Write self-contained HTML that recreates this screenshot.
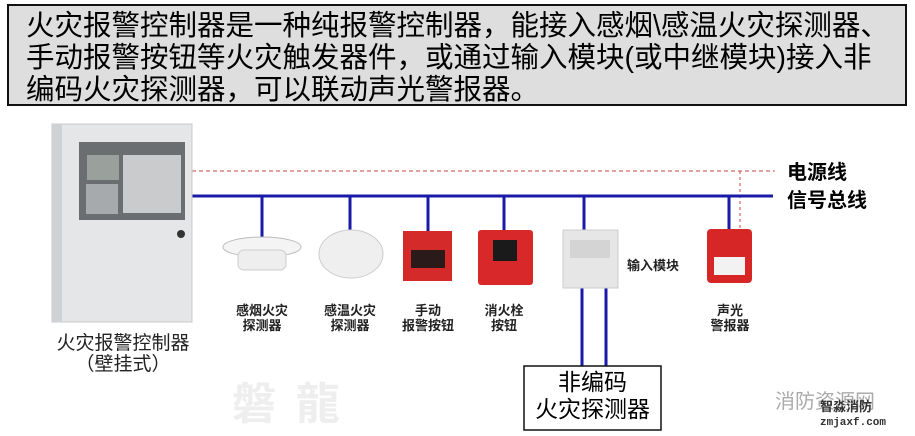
<!DOCTYPE html>
<html><head><meta charset="utf-8"><style>
body{margin:0;width:915px;height:436px;background:#fff;position:relative;overflow:hidden;font-family:"Liberation Sans","Noto Sans CJK SC",sans-serif}
.a{position:absolute}
.top{left:7px;top:4px;width:896px;height:98px;background:#dedede;border:2px solid #111;}
.top div{position:absolute;left:17px;font-size:28.5px;line-height:32px;color:#000;white-space:nowrap}
.lb{position:absolute;font-size:13px;line-height:15px;text-align:center;color:#222;font-weight:bold}
</style></head><body>
<div class="a top"><div style="top:4px">火灾报警控制器是一种纯报警控制器，能接入感烟\感温火灾探测器、<br>手动报警按钮等火灾触发器件，或通过输入模块(或中继模块)接入非<br>编码火灾探测器，可以联动声光警报器。</div></div>
<svg class="a" style="left:0;top:0" width="915" height="436">
<line x1="192" y1="171" x2="775" y2="171" stroke="#c44" stroke-width="1" stroke-dasharray="4,3"/>
<line x1="740" y1="171" x2="740" y2="230" stroke="#c44" stroke-width="1" stroke-dasharray="3,3"/>
<line x1="190" y1="196" x2="773" y2="196" stroke="#1a1aa8" stroke-width="3"/>
<g stroke="#1a1aa8" stroke-width="3">
<line x1="262" y1="196" x2="262" y2="238"/><line x1="350" y1="196" x2="350" y2="230"/>
<line x1="428" y1="196" x2="428" y2="231"/><line x1="504" y1="196" x2="504" y2="231"/>
<line x1="584" y1="196" x2="584" y2="230"/><line x1="729" y1="196" x2="729" y2="230"/>
<line x1="582" y1="288" x2="582" y2="366"/><line x1="606" y1="288" x2="606" y2="366"/>
</g>
<!-- controller -->
<rect x="52" y="124" width="140" height="198" fill="#e4e6e8" stroke="#c8c8c8"/>
<rect x="52" y="124" width="10" height="198" fill="#cfd2d4"/>
<rect x="79" y="142" width="106" height="78" fill="#6a6e70"/>
<rect x="87" y="155" width="32" height="25" fill="#9aa19c"/>
<rect x="123" y="155" width="58" height="58" fill="#c9cbcc"/>
<rect x="86" y="184" width="32" height="30" fill="#a7aaac"/>
<circle cx="181" cy="234" r="4" fill="#333"/>
<!-- smoke -->
<ellipse cx="262" cy="247" rx="39" ry="10" fill="#f4f4f4" stroke="#bbb"/>
<rect x="238" y="250" width="48" height="20" rx="6" fill="#eee" stroke="#ccc"/>
<!-- heat -->
<ellipse cx="351" cy="254" rx="32" ry="24" fill="#efefef" stroke="#ccc"/>
<!-- manual -->
<rect x="403" y="231" width="49" height="50" fill="#d42a2a"/>
<rect x="411" y="250" width="34" height="18" fill="#2a1a1a"/>
<!-- hydrant -->
<rect x="478" y="230" width="55" height="55" rx="3" fill="#d8282a"/>
<rect x="493" y="240" width="24" height="21" fill="#1a1a1a"/>
<!-- module -->
<rect x="563" y="230" width="55" height="58" fill="#e6e6e6" stroke="#ccc"/>
<rect x="570" y="240" width="40" height="18" fill="#d4d4d4"/>
<!-- sounder -->
<rect x="707" y="229" width="45" height="54" rx="4" fill="#d62626"/>
<rect x="714" y="257" width="31" height="18" fill="#f2f2f2"/>
<rect x="524" y="366" width="137" height="64" fill="#fff" stroke="#111" stroke-width="1.5"/>
</svg>
<div class="a" style="left:787px;top:159px;font-size:20px;font-weight:bold;line-height:28px">电源线<br>信号总线</div>
<div class="a" style="left:627px;top:255px;font-size:13px;font-weight:bold;color:#222">输入模块</div>
<div class="lb" style="left:232px;top:303px;width:60px">感烟火灾<br>探测器</div>
<div class="lb" style="left:320px;top:303px;width:60px">感温火灾<br>探测器</div>
<div class="lb" style="left:398px;top:303px;width:60px">手动<br>报警按钮</div>
<div class="lb" style="left:474px;top:303px;width:60px">消火栓<br>按钮</div>
<div class="lb" style="left:700px;top:303px;width:60px">声光<br>警报器</div>
<div class="a" style="left:48px;top:333px;width:150px;text-align:center;font-size:19px;line-height:21px;color:#222">火灾报警控制器<br>（壁挂式）</div>
<div class="a" style="left:524px;top:369px;width:137px;text-align:center;font-size:23px;line-height:27px">非编码<br>火灾探测器</div>
<div class="a" style="left:232px;top:368px;font-size:44px;color:#eee;font-weight:bold;letter-spacing:20px">磐龍</div>
<div class="a" style="left:775px;top:385px;font-size:20px;color:#aaa">消防资源网</div>
<div class="a" style="left:820px;top:400px;font-size:13px;font-weight:bold;color:#333;line-height:14px">智淼消防<br><span style="font-family:'Liberation Mono';font-size:11px">zmjaxf.com</span></div>
</body></html>
